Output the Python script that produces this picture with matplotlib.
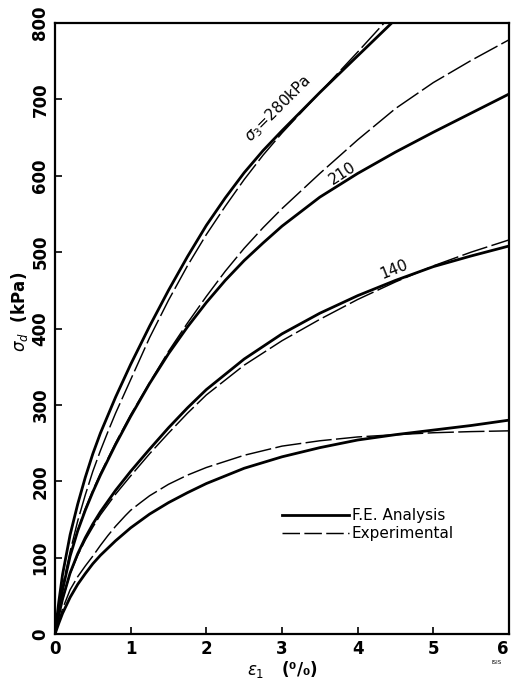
import matplotlib
matplotlib.use("Agg")
import matplotlib.pyplot as plt
from matplotlib.lines import Line2D

# ---- data (axial strain %, deviator stress kPa) ----
fe280_x = [0, 0.05, 0.1, 0.2, 0.3, 0.4, 0.5, 0.6, 0.8, 1.0, 1.25, 1.5, 1.75, 2.0, 2.25, 2.5, 2.75, 3.0, 3.5, 4.0, 4.45]
fe280_y = [0, 42, 78, 130, 170, 205, 236, 263, 310, 353, 403, 450, 494, 535, 571, 604, 633, 659, 709, 757, 800]
ex280_x = [0, 0.05, 0.1, 0.2, 0.3, 0.4, 0.5, 0.6, 0.7, 0.8, 1.0, 1.25, 1.5, 1.75, 2.0, 2.25, 2.5, 2.75, 3.0, 3.5, 4.0, 4.35]
ex280_y = [0, 35, 62, 108, 148, 182, 213, 240, 265, 289, 333, 388, 437, 482, 523, 560, 595, 627, 656, 709, 762, 800]

fe210_x = [0, 0.05, 0.1, 0.2, 0.3, 0.4, 0.5, 0.6, 0.8, 1.0, 1.25, 1.5, 1.75, 2.0, 2.25, 2.5, 2.75, 3.0, 3.5, 4.0, 4.5, 5.0, 5.5, 6.0]
fe210_y = [0, 30, 58, 102, 135, 162, 186, 208, 248, 285, 328, 367, 402, 434, 463, 489, 512, 534, 572, 603, 631, 657, 682, 707]
ex210_x = [0, 0.05, 0.1, 0.2, 0.3, 0.4, 0.5, 0.6, 0.8, 1.0, 1.25, 1.5, 1.75, 2.0, 2.25, 2.5, 2.75, 3.0, 3.5, 4.0, 4.5, 5.0, 5.5, 6.0]
ex210_y = [0, 30, 58, 103, 136, 164, 188, 210, 250, 287, 329, 370, 407, 442, 475, 505, 532, 557, 603, 647, 688, 722, 751, 778]

fe140_x = [0, 0.05, 0.1, 0.2, 0.3, 0.4, 0.5, 0.6, 0.8, 1.0, 1.25, 1.5, 1.75, 2.0, 2.5, 3.0, 3.5, 4.0, 4.5, 5.0, 5.5, 6.0]
fe140_y = [0, 25, 46, 80, 105, 126, 144, 160, 188, 213, 242, 270, 296, 320, 360, 393, 420, 443, 463, 481, 495, 508]
ex140_x = [0, 0.05, 0.1, 0.2, 0.3, 0.4, 0.5, 0.6, 0.8, 1.0, 1.25, 1.5, 1.75, 2.0, 2.5, 3.0, 3.5, 4.0, 4.5, 5.0, 5.5, 6.0]
ex140_y = [0, 25, 46, 79, 103, 123, 140, 156, 183, 207, 236, 263, 289, 313, 352, 384, 412, 438, 461, 482, 500, 516]

fe70_x = [0, 0.05, 0.1, 0.2, 0.3, 0.4, 0.5, 0.6, 0.8, 1.0, 1.25, 1.5, 1.75, 2.0, 2.5, 3.0, 3.5, 4.0, 4.5, 5.0, 5.5, 6.0]
fe70_y = [0, 14, 27, 48, 65, 79, 92, 103, 122, 139, 157, 172, 185, 197, 217, 232, 244, 254, 261, 267, 273, 280]
ex70_x = [0, 0.05, 0.1, 0.2, 0.3, 0.4, 0.5, 0.6, 0.7, 0.8, 0.93, 1.0, 1.13, 1.25, 1.5, 1.75, 2.0, 2.5, 3.0, 3.5, 4.0, 4.5, 5.0, 5.5, 6.0]
ex70_y = [0, 17, 33, 58, 75, 89, 102, 116, 129, 141, 155, 162, 172, 181, 196, 208, 218, 234, 246, 253, 258, 261, 263.5, 265, 266]

x_ticks = [0, 1, 2, 3, 4, 5, 6]
y_ticks = [0, 100, 200, 300, 400, 500, 600, 700, 800]

fe_curves = [(fe280_x, fe280_y), (fe210_x, fe210_y), (fe140_x, fe140_y), (fe70_x, fe70_y)]
ex_curves = [(ex280_x, ex280_y), (ex210_x, ex210_y), (ex140_x, ex140_y), (ex70_x, ex70_y)]

fig = plt.figure(figsize=(5.12, 6.82), dpi=100)
ax = fig.add_axes([55/512, 1-634/682, 454/512, 611/682])

FE_LW = 2.0
EX_LW = 1.05
EX_DASH = (18, 3)

for xs, ys in fe_curves:
    ax.plot(xs, ys, color="black", lw=FE_LW, solid_joinstyle="round")
for xs, ys in ex_curves:
    ax.plot(xs, ys, color="black", lw=EX_LW, dashes=EX_DASH)

ax.set_xlim(0, 6)
ax.set_ylim(0, 800)
ax.set_xticks(x_ticks)
ax.set_yticks(y_ticks)
ax.set_xticklabels([str(v) for v in x_ticks])
ax.set_yticklabels([str(v) for v in y_ticks])
ax.tick_params(direction="in", length=5, width=1.2, labelsize=12, pad=4)
for lab in ax.get_yticklabels():
    lab.set_rotation(90)
    lab.set_va("center")
for lab in ax.get_xticklabels() + ax.get_yticklabels():
    lab.set_fontweight("bold")
ax.get_xticklabels()[-1].set_ha("right")
for sp in ax.spines.values():
    sp.set_linewidth(1.6)

ax.set_xlabel(r"$\epsilon_1$   (⁰/₀)", fontsize=12, fontweight="bold", labelpad=1)
ax.set_ylabel(r"$\sigma_d$  (kPa)", fontsize=12, fontweight="bold")
ax.yaxis.set_label_coords(-0.055, 0.527)

# curve labels
ax.text(2.95, 688, r"$\sigma_3$=280kPa", rotation=45, fontsize=11, ha="center", va="center")
ax.text(3.8, 603, "210", rotation=33, fontsize=11, ha="center", va="center")
ax.text(4.48, 478, "140", rotation=22, fontsize=11, ha="center", va="center")

handles = [Line2D([], [], color="black", lw=FE_LW),
           Line2D([], [], color="black", lw=EX_LW, dashes=(12, 3))]
ax.legend(handles, ["F.E. Analysis", "Experimental"], loc="upper left",
          bbox_to_anchor=(0.47, 0.228), frameon=False, handlelength=4.4,
          handletextpad=0.15, fontsize=11, labelspacing=0.2)

fig.text(497/512, 1-662/682, "ISIS", fontsize=4, ha="center", va="center")

fig.savefig("out.png", dpi=100)
